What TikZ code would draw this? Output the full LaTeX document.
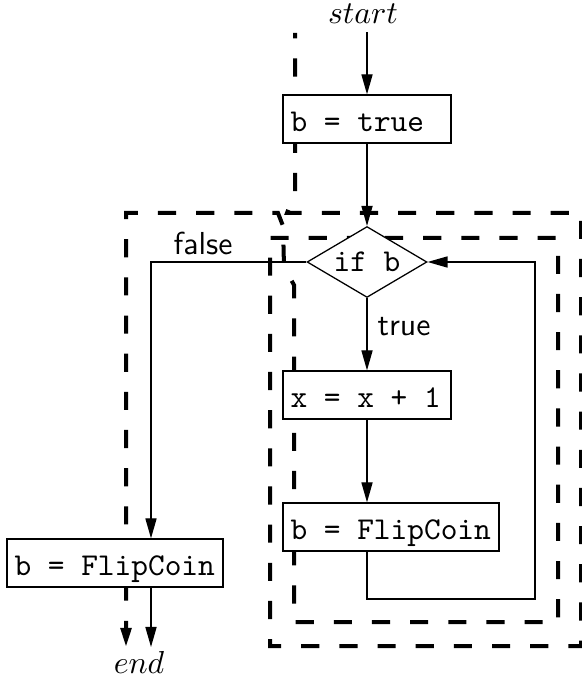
\documentclass[tikz,border=0pt]{standalone}
\usetikzlibrary{arrows.meta,shapes.geometric}
\newcommand\fixsp{\spaceskip=5.25pt\xspaceskip=5.25pt\relax}
\begin{document}
\begin{tikzpicture}[x=0.3145pt,y=-0.3145pt,
  every node/.style={inner sep=0pt},
  box/.style={draw,fill=white,line width=0.4pt,rectangle,font=\ttfamily,inner xsep=2.35pt,inner ysep=0pt,text height=11.6pt,text depth=3.5pt,align=left},
  dec/.style={draw,fill=white,diamond,aspect=2,font=\ttfamily,inner sep=0pt,minimum width=37.7pt,minimum height=22.3pt,line width=0.4pt},
  arr/.style={-{Triangle[length=6.3pt,width=3.5pt]},line width=0.4pt},
  trace/.style={line width=1.26pt,dash pattern=on 5.7pt off 6.3pt,dash phase=4pt},
  lab/.style={font=\sffamily}]
\useasboundingbox (0,0) rectangle (581,678);
% helper coordinates
\coordinate (fl) at (151,262);
\coordinate (lr) at (535,599);
\coordinate (e1) at (151,647);
\coordinate (e2) at (126,647);
% execution trace (drawn first, boxes cover it)
\draw[trace,-{Triangle[length=6pt,width=3.3pt]}]
  (295,33) -- (295,192) -- (287,213) -- (581,213) -- (581,646) -- (270,646)
  -- (270,238) -- (558,238) -- (558,622) -- (294,622) -- (294,285)
  -- (284,267) -- (283,226) -- (278,213) -- (126,213) -- (e2);
% nodes
\node[inner sep=2.5pt] (start) at (363,14) {$start$};
\node[box,text width=48.1pt] (b1) at (367,119) {\fixsp b = true};
\node[dec] (ifb) at (367,262) {if b};
\node[box,text width=48.1pt] (x1) at (367,395) {\fixsp x = x + 1};
\node[box,text width=63.2pt] (b2) at (391,527) {\fixsp b = FlipCoin};
\node[box,text width=63.2pt] (b3) at (115,563) {\fixsp b = FlipCoin};
\node (end) at (139,662) {$end$};
\node[lab] (ltrue) at (404,327) {true};
\node[lab] (lfalse) at (203,243) {false};
% connectors
\draw[arr] (start.south -| b1.north) -- (b1.north);
\draw[arr] (b1.south) -- (ifb.north);
\draw[arr] (ifb.south) -- (x1.north);
\draw[arr] (x1.south) -- (b2.north -| x1.south);
\draw[arr] (b2.south -| x1.south) |- (lr) |- (ifb.east);
\draw[arr] (ifb.west) -- (fl) -- (fl |- b3.north);
\draw[arr] (fl |- b3.south) -- (e1);
\end{tikzpicture}
\end{document}
